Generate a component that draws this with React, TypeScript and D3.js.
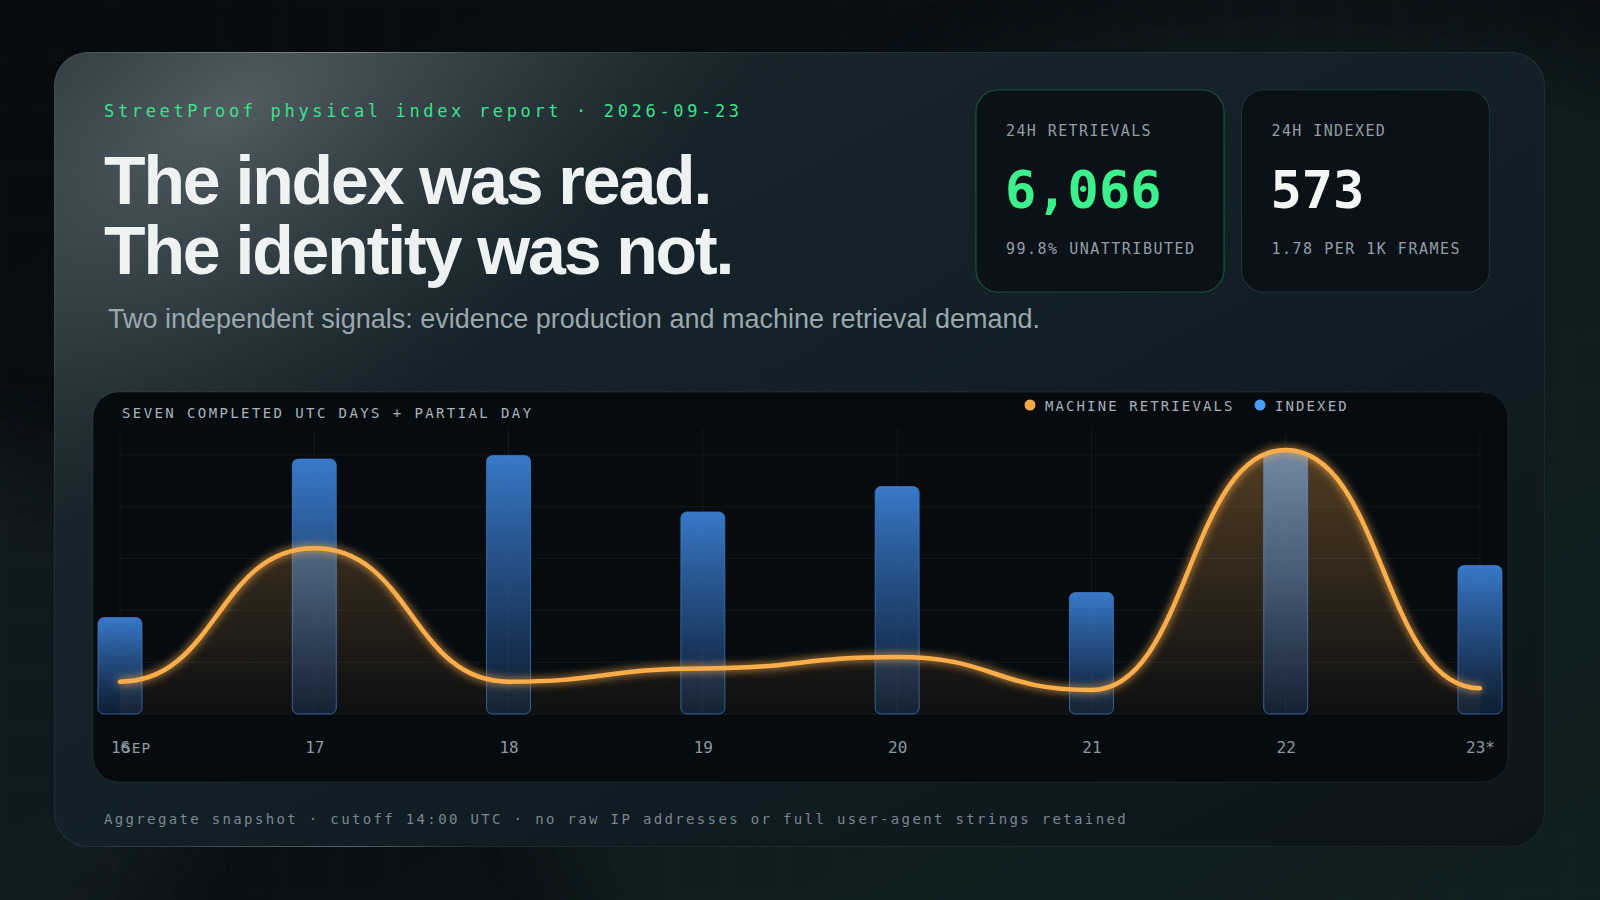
import React, { useEffect, useRef } from 'react';
import * as d3 from 'd3';

// chart data
const days = ['16', '17', '18', '19', '20', '21', '22', '23*'];
const monthLabel = 'SEP';
const indexed = [372, 984, 998, 780, 878, 469, 1013, 573];
const retrievals = [748, 3838, 748, 1056, 1320, 556, 6114, 595];
const seriesNames = ['MACHINE RETRIEVALS', 'INDEXED'];
const seriesColors = ['#f7a94a', '#4a9cf0'];

const statLabels = ['24H RETRIEVALS', '24H INDEXED'];
const statValues = ['6,066', '573'];
const statNotes = ['99.8% UNATTRIBUTED', '1.78 PER 1K FRAMES'];

const MONO = '"DejaVu Sans Mono", monospace';
const SANS = '"Liberation Sans", Arial, sans-serif';

function App() {
  const ref = useRef<SVGSVGElement>(null);

  useEffect(() => {
    document.body.style.margin = '0';
    document.body.style.background = '#0a1015';
    const W = 1600;
    const H = 900;
    const svg = d3.select(ref.current);
    svg.selectAll('*').remove();

    const defs = svg.append('defs');

    const bgGrad = defs.append('linearGradient').attr('id', 'bg').attr('x1', 0).attr('y1', 0).attr('x2', 1).attr('y2', 1);
    bgGrad.append('stop').attr('offset', 0).attr('stop-color', '#070b0f');
    bgGrad.append('stop').attr('offset', 1).attr('stop-color', '#0c151b');

    const blur = defs.append('filter').attr('id', 'blurBig').attr('x', '-50%').attr('y', '-50%').attr('width', '200%').attr('height', '200%');
    blur.append('feGaussianBlur').attr('stdDeviation', 40);

    const cardGrad = defs.append('linearGradient').attr('id', 'card').attr('x1', 0).attr('y1', 0).attr('x2', 1).attr('y2', 1);
    cardGrad.append('stop').attr('offset', 0).attr('stop-color', '#1d2a30');
    cardGrad.append('stop').attr('offset', 0.5).attr('stop-color', '#122027');
    cardGrad.append('stop').attr('offset', 1).attr('stop-color', '#0b141a');

    // soft grey light in the top-left corner of the card
    const hi = defs.append('radialGradient').attr('id', 'hi')
      .attr('gradientUnits', 'userSpaceOnUse')
      .attr('cx', 230).attr('cy', 110).attr('r', 660)
      .attr('gradientTransform', 'translate(230 110) rotate(-32) scale(1 0.5) translate(-230 -110)');
    hi.append('stop').attr('offset', 0).attr('stop-color', '#8a9296').attr('stop-opacity', 0.5);
    hi.append('stop').attr('offset', 0.5).attr('stop-color', '#6a7478').attr('stop-opacity', 0.28);
    hi.append('stop').attr('offset', 1).attr('stop-color', '#4a5458').attr('stop-opacity', 0);

    const edge = defs.append('linearGradient').attr('id', 'edge').attr('x1', 0).attr('x2', 1);
    edge.append('stop').attr('offset', 0).attr('stop-color', '#ffffff').attr('stop-opacity', 0.05);
    edge.append('stop').attr('offset', 0.2).attr('stop-color', '#ffffff').attr('stop-opacity', 0.3);
    edge.append('stop').attr('offset', 0.28).attr('stop-color', '#ffffff').attr('stop-opacity', 0.06);
    edge.append('stop').attr('offset', 1).attr('stop-color', '#ffffff').attr('stop-opacity', 0.06);

    const barGrad = defs.append('linearGradient').attr('id', 'bar').attr('x1', 0).attr('y1', 0).attr('x2', 0).attr('y2', 1);
    barGrad.append('stop').attr('offset', 0).attr('stop-color', '#3b7fd3').attr('stop-opacity', 0.95);
    barGrad.append('stop').attr('offset', 0.55).attr('stop-color', '#2a5c9c').attr('stop-opacity', 0.7);
    barGrad.append('stop').attr('offset', 1).attr('stop-color', '#1a3a66').attr('stop-opacity', 0.4);

    const areaGrad = defs.append('linearGradient').attr('id', 'area')
      .attr('gradientUnits', 'userSpaceOnUse').attr('x1', 0).attr('y1', 440).attr('x2', 0).attr('y2', 714);
    areaGrad.append('stop').attr('offset', 0).attr('stop-color', '#f7a94a').attr('stop-opacity', 0.32);
    areaGrad.append('stop').attr('offset', 1).attr('stop-color', '#f7a94a').attr('stop-opacity', 0.03);

    const glow = defs.append('filter').attr('id', 'glow').attr('x', '-10%').attr('y', '-30%').attr('width', '120%').attr('height', '160%');
    glow.append('feGaussianBlur').attr('in', 'SourceGraphic').attr('stdDeviation', 4).attr('result', 'b');
    const merge = glow.append('feMerge');
    merge.append('feMergeNode').attr('in', 'b');
    merge.append('feMergeNode').attr('in', 'SourceGraphic');

    // page background
    svg.append('rect').attr('width', W).attr('height', H).attr('fill', 'url(#bg)');
    svg.append('ellipse').attr('cx', 1280).attr('cy', 640).attr('rx', 760).attr('ry', 620)
      .attr('fill', '#1a3a30').attr('opacity', 0.28).attr('filter', 'url(#blurBig)');
    svg.append('ellipse').attr('cx', -60).attr('cy', 720).attr('rx', 260).attr('ry', 280)
      .attr('fill', '#1c2f38').attr('opacity', 0.35).attr('filter', 'url(#blurBig)');
    const grid = svg.append('g').attr('stroke', '#ffffff').attr('stroke-opacity', 0.025);
    d3.range(0, W, 56).forEach(x => grid.append('line').attr('x1', x).attr('x2', x).attr('y1', 0).attr('y2', H));
    d3.range(0, H, 56).forEach(y => grid.append('line').attr('x1', 0).attr('x2', W).attr('y1', y).attr('y2', y));

    // outer card
    const card = { x: 54, y: 52, w: 1491, h: 795 };
    defs.append('clipPath').attr('id', 'cardClip').append('rect')
      .attr('x', card.x).attr('y', card.y).attr('width', card.w).attr('height', card.h).attr('rx', 34);
    svg.append('rect').attr('x', card.x).attr('y', card.y).attr('width', card.w).attr('height', card.h).attr('rx', 34)
      .attr('fill', '#111d23');
    svg.append('rect').attr('x', card.x).attr('y', card.y).attr('width', card.w).attr('height', card.h).attr('rx', 34)
      .attr('fill', 'url(#card)').attr('opacity', 0.9);
    svg.append('rect').attr('x', card.x).attr('y', card.y).attr('width', card.w).attr('height', card.h)
      .attr('fill', 'url(#hi)').attr('clip-path', 'url(#cardClip)');
    svg.append('rect').attr('x', card.x + 0.5).attr('y', card.y + 0.5).attr('width', card.w - 1).attr('height', card.h - 1).attr('rx', 34)
      .attr('fill', 'none').attr('stroke', 'url(#edge)').attr('stroke-width', 1.2);

    // header
    svg.append('text').attr('x', 104).attr('y', 117).attr('fill', '#3ee088')
      .style('font-family', MONO).style('font-size', '17px').style('letter-spacing', '3.65px')
      .text('StreetProof physical index report · 2026-09-23');
    const head = svg.append('text').attr('fill', '#eef2f2')
      .style('font-family', SANS).style('font-size', '68px').style('font-weight', 700).style('letter-spacing', '-2.1px');
    head.append('tspan').attr('x', 104).attr('y', 204).text('The index was read.');
    head.append('tspan').attr('x', 104).attr('y', 274).text('The identity was not.');
    svg.append('text').attr('x', 108).attr('y', 328).attr('fill', '#9ba7ad')
      .style('font-family', SANS).style('font-size', '27px')
      .text('Two independent signals: evidence production and machine retrieval demand.');

    // stat cards
    const statX = [976, 1241.5];
    const statBorder = ['rgba(61,220,132,0.28)', 'rgba(110,160,190,0.18)'];
    const statColor = ['#3cf08c', '#f2f6f4'];
    statX.forEach((sx, i) => {
      svg.append('rect').attr('x', sx).attr('y', 90).attr('width', 248).attr('height', 202).attr('rx', 22)
        .attr('fill', '#0a1217').attr('stroke', statBorder[i]).attr('stroke-width', 1.2);
      svg.append('text').attr('x', sx + 30).attr('y', 136).attr('fill', '#939ea4')
        .style('font-family', MONO).style('font-size', '15px').style('letter-spacing', '1.4px').text(statLabels[i]);
      svg.append('text').attr('x', sx + 29).attr('y', 208).attr('fill', statColor[i])
        .style('font-family', MONO).style('font-size', '52px').style('font-weight', 700).text(statValues[i]);
      svg.append('text').attr('x', sx + 30).attr('y', 254).attr('fill', '#939ea4')
        .style('font-family', MONO).style('font-size', '15px').style('letter-spacing', '1.5px').text(statNotes[i]);
    });

    // chart panel
    svg.append('rect').attr('x', 93).attr('y', 392).attr('width', 1415).attr('height', 390).attr('rx', 26)
      .attr('fill', '#060b10').attr('stroke', 'rgba(255,255,255,0.07)');
    svg.append('text').attr('x', 122).attr('y', 418).attr('fill', '#aab4ba')
      .style('font-family', MONO).style('font-size', '14px').style('letter-spacing', '2.4px')
      .text('SEVEN COMPLETED UTC DAYS + PARTIAL DAY');

    // legend
    const legendX = [1030, 1260];
    seriesNames.forEach((name, i) => {
      svg.append('circle').attr('cx', legendX[i]).attr('cy', 405).attr('r', 5.5).attr('fill', seriesColors[i]);
      svg.append('text').attr('x', legendX[i] + 15).attr('y', 411).attr('fill', '#a6b0b6')
        .style('font-family', MONO).style('font-size', '14px').style('letter-spacing', '2.1px').text(name);
    });

    const x = d3.scalePoint<string>().domain(days).range([120, 1480]);
    const yBar = d3.scaleLinear().domain([0, 1100]).range([714, 429]);
    const yLine = d3.scaleLinear().domain([0, 6600]).range([714, 429]);

    // gridlines
    const gridG = svg.append('g').attr('stroke', '#ffffff').attr('stroke-opacity', 0.055);
    yBar.ticks(4).forEach(t => {
      gridG.append('line').attr('x1', 120).attr('x2', 1480).attr('y1', yBar(t)).attr('y2', yBar(t));
    });
    days.forEach(d => {
      gridG.append('line').attr('x1', x(d)!).attr('x2', x(d)!).attr('y1', 429).attr('y2', 714);
    });

    // bars
    const bw = 44;
    svg.append('g').selectAll('rect').data(days).enter().append('rect')
      .attr('x', d => x(d)! - bw / 2)
      .attr('y', (d, i) => yBar(indexed[i]))
      .attr('width', bw)
      .attr('height', (d, i) => yBar(0) - yBar(indexed[i]))
      .attr('rx', 6)
      .attr('fill', 'url(#bar)')
      .attr('stroke', '#4383d4').attr('stroke-opacity', 0.65).attr('stroke-width', 1);

    // retrieval line
    const pts: [number, number][] = days.map((d, i) => [x(d)!, yLine(retrievals[i])]);
    const area = d3.area<[number, number]>().x(p => p[0]).y0(yLine(0)).y1(p => p[1]).curve(d3.curveBumpX);
    const line = d3.line<[number, number]>().x(p => p[0]).y(p => p[1]).curve(d3.curveBumpX);
    svg.append('path').attr('d', area(pts)!).attr('fill', 'url(#area)');
    svg.append('path').attr('d', line(pts)!).attr('fill', 'none').attr('stroke', '#fdae4c')
      .attr('stroke-width', 4.5).attr('stroke-linecap', 'round').attr('filter', 'url(#glow)');

    // x axis labels
    const axis = svg.append('g').attr('transform', 'translate(0,753)')
      .call(d3.axisBottom(x).tickSize(0).tickPadding(0));
    axis.select('.domain').remove();
    axis.selectAll('text').attr('dy', 0).attr('fill', '#8d99a1')
      .style('font-family', MONO).style('font-size', '16px');
    svg.append('text').attr('x', 122).attr('y', 753).attr('fill', '#8d99a1')
      .style('font-family', MONO).style('font-size', '14.5px').style('letter-spacing', '1px').text(monthLabel);

    // footer
    svg.append('text').attr('x', 104).attr('y', 824).attr('fill', '#7b868d')
      .style('font-family', MONO).style('font-size', '14px').style('letter-spacing', '2.35px')
      .text('Aggregate snapshot · cutoff 14:00 UTC · no raw IP addresses or full user-agent strings retained');
  }, []);

  return <svg ref={ref} width={1600} height={900} style={{ display: 'block' }} />;
}

export default App;
